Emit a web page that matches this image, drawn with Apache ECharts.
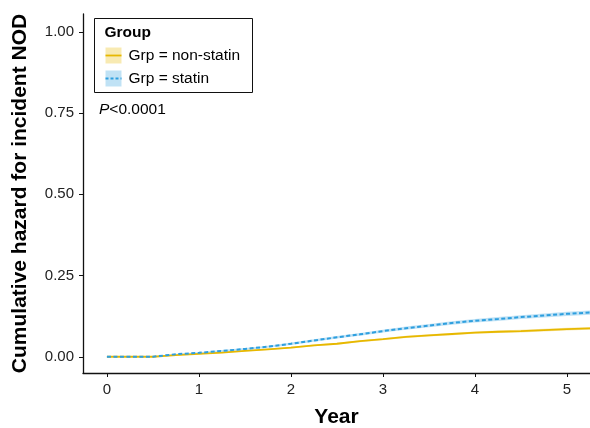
<html>
<head>
    <meta charset="utf-8">
    <title>Cumulative hazard</title>
    <script src="https://cdn.jsdelivr.net/npm/echarts@6/dist/echarts.min.js"></script>
</head>
<body style="margin:0;background:#fff;">
    <div id="main" style="width: 590px;height:428px;"></div>
    <script type="text/javascript">
        var myChart = echarts.init(document.getElementById('main'));

        // values
        var groups = ['Grp = non-statin', 'Grp = statin'];
        var years = [0, 0.25, 0.5, 0.75, 1.0, 1.25, 1.5, 1.75, 2.0, 2.25, 2.5, 2.75,
                     3.0, 3.25, 3.5, 3.75, 4.0, 4.25, 4.5, 4.75, 5.0, 5.25];
        var nonStatin = [0, 0, 0, 0.005, 0.009, 0.013, 0.018, 0.023, 0.028, 0.035, 0.040, 0.048,
                         0.054, 0.061, 0.066, 0.070, 0.074, 0.077, 0.079, 0.082, 0.085, 0.0875];
        var statin = [0, 0, 0, 0.008, 0.012, 0.018, 0.024, 0.031, 0.040, 0.050, 0.060, 0.069,
                      0.079, 0.088, 0.096, 0.104, 0.111, 0.116, 0.122, 0.127, 0.132, 0.136];
        var nonStatinCi = [0, 0, 0, 0.001, 0.0015, 0.002, 0.002, 0.0025, 0.0025, 0.003, 0.003, 0.003,
                           0.003, 0.0035, 0.0035, 0.0035, 0.0035, 0.004, 0.004, 0.004, 0.004, 0.004];
        var statinCi = [0, 0, 0, 0.0015, 0.002, 0.0025, 0.003, 0.003, 0.0035, 0.004, 0.004, 0.0045,
                        0.0045, 0.005, 0.005, 0.0055, 0.0055, 0.006, 0.006, 0.006, 0.0065, 0.0065];
        var xTicks = [0, 1, 2, 3, 4, 5];
        var yTicks = [0, 0.25, 0.5, 0.75, 1];

        var colors = ['#E7B800', '#2E9FDF'];
        var fills = ['rgba(231,184,0,0.3)', 'rgba(46,159,223,0.3)'];
        var font = 'Liberation Sans, Arial, sans-serif';

        function pairs(vals) {
            return years.map(function (x, i) { return [x, vals[i]]; });
        }

        // confidence band as one polygon, mapped through the chart's axes
        function band(vals, ci, idx) {
            var rows = years.map(function (x, i) { return [x, vals[i] - ci[i], vals[i] + ci[i]]; });
            return {
                type: 'custom', silent: true, z: 1,
                data: rows,
                encode: { x: 0, y: [1, 2] },
                renderItem: function (params, api) {
                    if (params.dataIndex !== 0) return;
                    var upper = rows.map(function (r) { return api.coord([r[0], r[2]]); });
                    var lower = rows.map(function (r) { return api.coord([r[0], r[1]]); }).reverse();
                    return {
                        type: 'polygon',
                        shape: { points: upper.concat(lower) },
                        style: { fill: fills[idx], stroke: null }
                    };
                }
            };
        }

        var series = [band(nonStatin, nonStatinCi, 0), band(statin, statinCi, 1)];
        series.push({
            type: 'line', name: groups[0], data: pairs(nonStatin),
            symbol: 'none', z: 5, lineStyle: { color: colors[0], width: 1.8 }
        });
        series.push({
            type: 'line', name: groups[1], data: pairs(statin),
            symbol: 'none', z: 6, lineStyle: { color: colors[1], width: 2, type: [4, 2.5] }
        });

        // legend box drawn by hand (ggplot style)
        var legendGraphic = {
            type: 'group', left: 94, top: 18,
            children: [
                { type: 'rect', shape: { x: 0, y: 0, width: 158, height: 74 },
                  style: { fill: '#fff', stroke: '#111', lineWidth: 1 } },
                { type: 'text', x: 10, y: 6,
                  style: { text: 'Group', font: 'bold 15.5px ' + font, fill: '#000' } },
                { type: 'rect', shape: { x: 11, y: 29, width: 16, height: 16 },
                  style: { fill: fills[0] } },
                { type: 'line', shape: { x1: 11, y1: 37, x2: 27, y2: 37 },
                  style: { stroke: colors[0], lineWidth: 1.8 } },
                { type: 'text', x: 34, y: 29,
                  style: { text: groups[0], font: '15.5px ' + font, fill: '#000' } },
                { type: 'rect', shape: { x: 11, y: 52, width: 16, height: 16 },
                  style: { fill: fills[1] } },
                { type: 'line', shape: { x1: 11, y1: 60, x2: 27, y2: 60 },
                  style: { stroke: colors[1], lineWidth: 1.8, lineDash: [3, 2] } },
                { type: 'text', x: 34, y: 52,
                  style: { text: groups[1], font: '15.5px ' + font, fill: '#000' } }
            ]
        };

        option = {
            animation: false,
            grid: { left: 83, right: 0, top: 14, bottom: 55, outerBoundsMode: 'none' },
            xAxis: {
                type: 'value', min: -0.26, max: 5.25,
                name: 'Year', nameLocation: 'middle', nameGap: 34,
                nameTextStyle: { fontFamily: font, fontSize: 21, fontWeight: 'bold', color: '#000' },
                axisLine: { show: true, onZero: false, lineStyle: { color: '#111', width: 1.3 } },
                axisTick: { show: true, customValues: xTicks, length: 4, lineStyle: { color: '#111' } },
                axisLabel: { customValues: xTicks, margin: 9, fontFamily: font, fontSize: 15, color: '#222' },
                splitLine: { show: false }
            },
            yAxis: {
                type: 'value', min: -0.05, max: 1.055,
                name: 'Cumulative hazard for incident NOD', nameLocation: 'middle', nameGap: 52,
                nameTextStyle: { fontFamily: font, fontSize: 21, fontWeight: 'bold', color: '#000' },
                axisLine: { show: true, onZero: false, lineStyle: { color: '#111', width: 1.3 } },
                axisTick: { show: true, customValues: yTicks, length: 4, lineStyle: { color: '#111' } },
                axisLabel: {
                    customValues: yTicks, margin: 9, fontFamily: font, fontSize: 15, color: '#222',
                    formatter: function (v) { return v.toFixed(2); }
                },
                splitLine: { show: false }
            },
            graphic: [
                legendGraphic,
                { type: 'text', left: 99, top: 102,
                  style: { text: '{i|P}<0.0001', font: '15.5px ' + font, fill: '#000',
                           rich: { i: { fontStyle: 'italic', fontFamily: font, fontSize: 15.5 } } } }
            ],
            series: series
        };

        myChart.setOption(option);
    </script>
</body>
</html>
